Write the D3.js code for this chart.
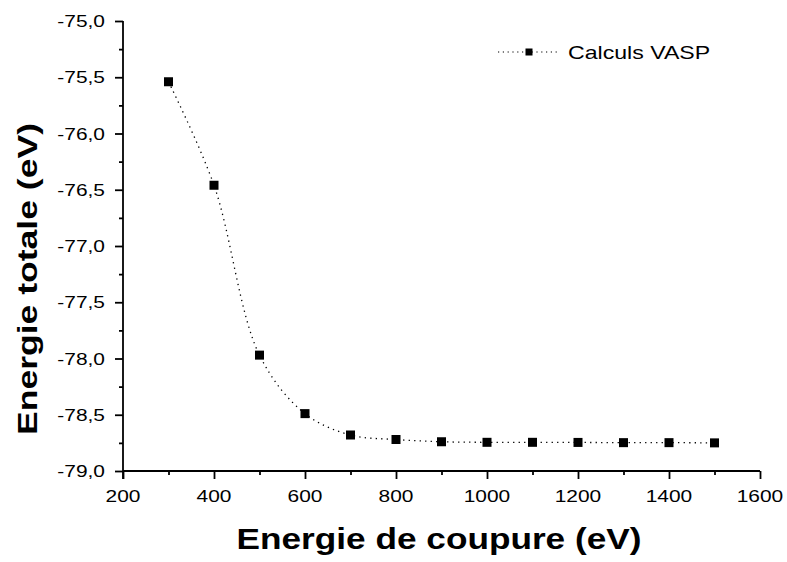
<!DOCTYPE html>
<html>
<head>
<meta charset="utf-8">
<script src="https://cdn.jsdelivr.net/npm/d3@7"></script>
<style>
  html, body { margin: 0; padding: 0; background: #fff; }
  svg { display: block; }
  text { font-family: "Liberation Sans", Arial, sans-serif; fill: #000; }
</style>
</head>
<body>
<svg id="chart" width="787" height="562"></svg>
<script>
// ---- data ----
const cutoffEnergies = [300, 400, 500, 600, 700, 800, 900, 1000, 1100, 1200, 1300, 1400, 1500];
const totalEnergies = [-75.54, -76.46, -77.97, -78.49, -78.68, -78.72, -78.74, -78.745, -78.745, -78.746, -78.748, -78.748, -78.75];
const xTickValues = [200, 400, 600, 800, 1000, 1200, 1400, 1600];
const xMinorTicks = [300, 500, 700, 900, 1100, 1300, 1500];
const yTickValues = [-79, -78.5, -78, -77.5, -77, -76.5, -76, -75.5, -75];
const yMinorTicks = [-78.75, -78.25, -77.75, -77.25, -76.75, -76.25, -75.75, -75.25];
const seriesName = "Calculs VASP";
const xTitle = "Energie de coupure (eV)";
const yTitle = "Energie totale (eV)";

// ---- layout ----
const mLeft = 123, mRight = 760, mTop = 21, mBottom = 471;
const stretch = 1.23;
const svg = d3.select("#chart");

const x = d3.scaleLinear().domain([200, 1600]).range([mLeft, mRight]);
const y = d3.scaleLinear().domain([-79, -75]).range([mBottom, mTop]);

const fmt = v => d3.format(".1f")(v).replace(".", ",").replace("\u2212", "-");

// X axis
const gx = svg.append("g").attr("transform", `translate(0,${mBottom})`);
gx.call(d3.axisBottom(x).tickValues(xTickValues).tickSize(8).tickFormat(""));
gx.append("g").call(d3.axisBottom(x).tickValues(xMinorTicks).tickSize(4).tickFormat(""));
gx.selectAll(".domain").remove();
gx.selectAll("line").attr("stroke", "#000").attr("stroke-width", 1.8);
svg.append("line").attr("x1", x(200)).attr("x2", x(1600)).attr("y1", mBottom).attr("y2", mBottom)
  .attr("stroke", "#000").attr("stroke-width", 1.8);

// Y axis
const gy = svg.append("g").attr("transform", `translate(${mLeft},0)`);
gy.call(d3.axisLeft(y).tickValues(yTickValues).tickSize(8).tickFormat(""));
gy.append("g").call(d3.axisLeft(y).tickValues(yMinorTicks).tickSize(4).tickFormat(""));
gy.selectAll(".domain").remove();
gy.selectAll("line").attr("stroke", "#000").attr("stroke-width", 1.8);
svg.append("line").attr("x1", mLeft).attr("x2", mLeft).attr("y1", y(-75)).attr("y2", mBottom + 8)
  .attr("stroke", "#000").attr("stroke-width", 1.8);

// Tick labels
svg.append("g").selectAll("text").data(xTickValues).join("text")
  .attr("transform", d => `translate(${x(d)},502) scale(${stretch},1)`)
  .attr("text-anchor", "middle")
  .attr("font-size", 17)
  .text(d => d);

svg.append("g").selectAll("text").data(yTickValues).join("text")
  .attr("transform", d => `translate(105,${y(d) + 6}) scale(${stretch},1)`)
  .attr("text-anchor", "end")
  .attr("font-size", 17)
  .text(d => fmt(d));

// Axis titles
svg.append("text")
  .attr("x", 439).attr("y", 549)
  .attr("text-anchor", "middle")
  .attr("font-size", 29).attr("font-weight", "bold")
  .attr("textLength", 405).attr("lengthAdjust", "spacingAndGlyphs")
  .text(xTitle);

svg.append("text")
  .attr("transform", "translate(37,279) rotate(-90)")
  .attr("text-anchor", "middle")
  .attr("font-size", 28).attr("font-weight", "bold")
  .attr("textLength", 312).attr("lengthAdjust", "spacingAndGlyphs")
  .text(yTitle);

// Series
const pts = cutoffEnergies.map((c, i) => [c, totalEnergies[i]]);
const line = d3.line().x(d => x(d[0])).y(d => y(d[1])).curve(d3.curveCatmullRom.alpha(0.5));
svg.append("path").attr("d", line(pts))
  .attr("fill", "none").attr("stroke", "#000").attr("stroke-width", 1.3)
  .attr("stroke-dasharray", "1.3,4.2");

const ms = 9;
svg.append("g").selectAll("rect").data(pts).join("rect")
  .attr("x", d => x(d[0]) - ms / 2).attr("y", d => y(d[1]) - ms / 2)
  .attr("width", ms).attr("height", ms).attr("fill", "#000");

// Legend
const lg = svg.append("g");
lg.append("line").attr("x1", 498).attr("x2", 558).attr("y1", 52).attr("y2", 52)
  .attr("stroke", "#000").attr("stroke-width", 1.2).attr("stroke-dasharray", "1.2,3.6");
lg.append("rect").attr("x", 529 - 3.5).attr("y", 52 - 3.5).attr("width", 7).attr("height", 7).attr("fill", "#000");
lg.append("text")
  .attr("transform", `translate(568,58.5) scale(1.25,1)`)
  .attr("font-size", 18.5)
  .text(seriesName);
</script>
</body>
</html>
